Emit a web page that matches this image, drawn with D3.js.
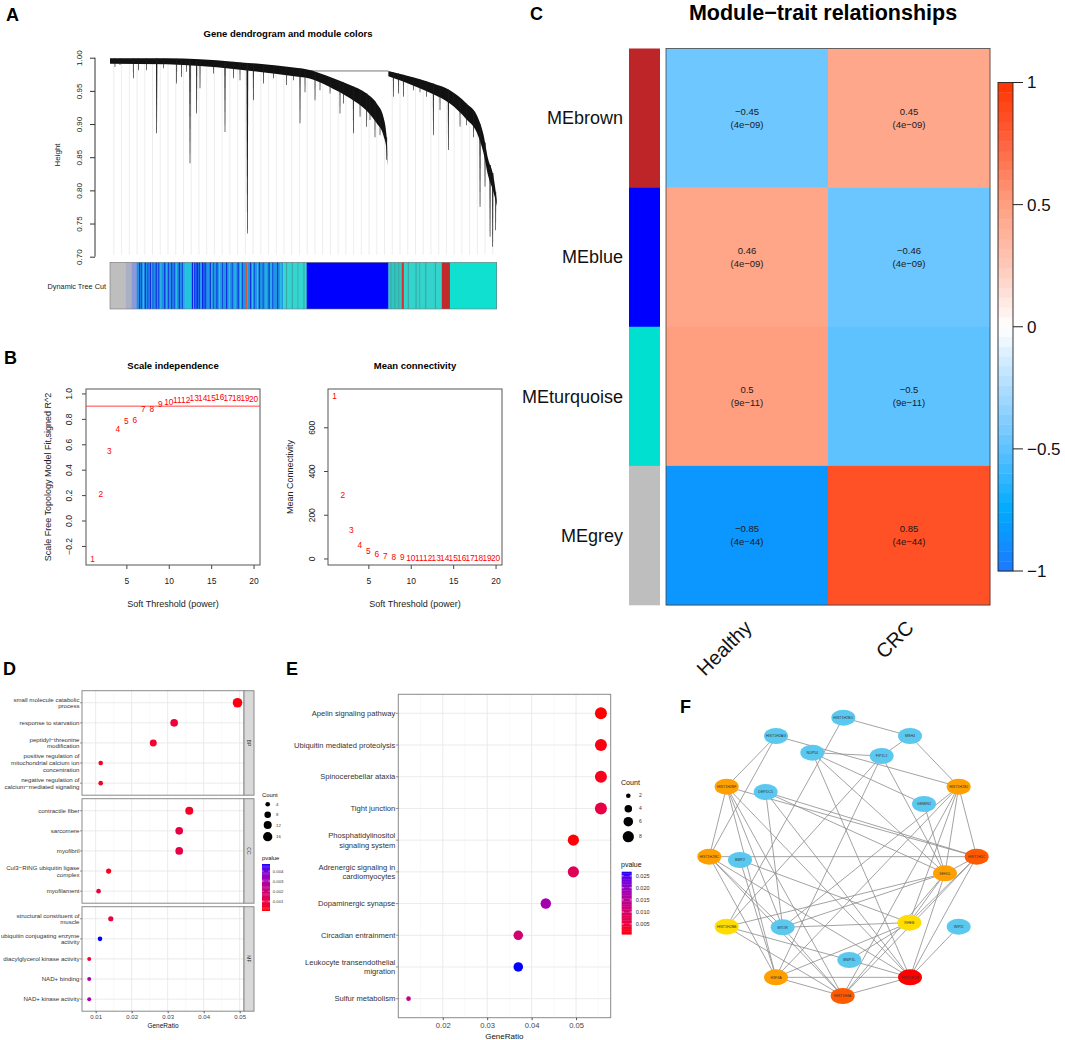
<!DOCTYPE html>
<html><head><meta charset="utf-8">
<script src="https://cdn.jsdelivr.net/npm/d3@7"></script>
<style>
body{margin:0;background:#fff}
svg{display:block}
text{font-family:"Liberation Sans",Arial,Helvetica,sans-serif}
</style>
</head><body>
<svg id="fig" width="1065" height="1040"></svg>
<script>
// ================= DATA =================
// --- Panel A: dendrogram (leaf index 0..1000, merge height)
const treeEnvLeftIdx   = [0,146.6,319,491,504,577.6,620.7,663.8,689.7,706.9,715.5,718];
const treeEnvLeftH     = [0.999,0.999,0.994,0.984,0.983,0.969,0.959,0.946,0.931,0.911,0.880,0.846];
const treeEnvLeftDepth = [0.008,0.009,0.011,0.013,0.013,0.016,0.020,0.026,0.030,0.028,0.020,0.008];
const treeEnvRightIdx   = [719.8,793,836,879,922,948,965.5,978.4,989.7,995.7,1000];
const treeEnvRightH     = [0.980,0.969,0.961,0.951,0.931,0.914,0.885,0.846,0.826,0.806,0.786];
const treeEnvRightDepth = [0.008,0.013,0.016,0.020,0.024,0.026,0.028,0.025,0.025,0.018,0.010];
const treeBridge = [504,719.8,0.980];
const treeDropIdx = [12.9,25.9,60.3,73.3,94.8,120.7,137.9,172.4,185.3,198.3,206.9,224.1,232.8,267.2,297.4,319,336.2,355.2,370.7,396.6,422.4,456.9,474.1,491.4,504.3,530.2,543.1,569,594.8,603.4,629.3,646.6,663.8,672.4,685.3,698.3,715.5,732.8,745.7,758.6,784.5,801.7,819,836.2,853.4,875,888,905.2,922.4,939.7,956.9,969.8,982.8,989.7,997.4];
const treeDropH = [0.986,0.989,0.969,0.981,0.981,0.886,0.984,0.961,0.971,0.979,0.841,0.916,0.954,0.976,0.888,0.969,0.966,0.735,0.936,0.961,0.969,0.959,0.966,0.901,0.948,0.936,0.951,0.946,0.916,0.931,0.886,0.911,0.896,0.906,0.880,0.883,0.846,0.941,0.946,0.941,0.951,0.948,0.941,0.883,0.921,0.861,0.931,0.896,0.898,0.880,0.775,0.806,0.730,0.715,0.740];
const treeYTicks = [0.70,0.75,0.80,0.85,0.90,0.95,1.00];
// Dynamic tree cut colour runs [start, end, colour]
const treeCutRuns = [
  [0,41,"#bebebe"],[41,55,"#aab0c4"],[55,69,"#8a9ad6"],[69,194,"#1f8fe6"],[194,211,"#22c4dc"],
  [211,250,"#1c6fe8"],[250,351,"#1f96e4"],[351,355,"#cd5c3c"],[355,448,"#1f96e4"],[448,508.6,"#34d6d2"],
  [508.6,720,"#0000ff"],[720,754,"#2ec8c0"],[754,760,"#e03030"],[760,858,"#33d4cc"],[858,879,"#c02a2a"],[879,1000,"#10e0d0"]];
// thin stripes [start, width, colour]
const treeCutStripes = [
  [75,3,"#1430e0"],[80,2,"#1430e0"],[85,3,"#2cc0e0"],[90,3,"#1430e0"],[97,2,"#1430e0"],[103,3,"#1430e0"],[107,3,"#2cc0e0"],
  [110,2,"#1430e0"],[118,3,"#1430e0"],[125,2,"#1430e0"],[130,3,"#2cc0e0"],[140,3,"#1430e0"],[145,2,"#2cc0e0"],[150,2,"#1430e0"],
  [158,3,"#1430e0"],[165,2,"#1430e0"],[170,3,"#2cc0e0"],[178,3,"#1430e0"],[186,2,"#1430e0"],[190,3,"#2cc0e0"],
  [212,3,"#0a20e8"],[215,3,"#2cc0e0"],[218,2,"#0a20e8"],[224,3,"#0a20e8"],[230,2,"#0a20e8"],[234,3,"#2cc0e0"],[238,3,"#0a20e8"],[245,2,"#0a20e8"],
  [258,3,"#1430e0"],[262,3,"#2cc0e0"],[266,2,"#1430e0"],[275,3,"#1430e0"],[282,3,"#2cc0e0"],[290,2,"#1430e0"],[300,3,"#1430e0"],
  [307,3,"#2cc0e0"],[315,2,"#1430e0"],[322,3,"#2cc0e0"],[330,3,"#1430e0"],[336,3,"#2cc0e0"],[342,2,"#1430e0"],
  [362,3,"#1430e0"],[367,3,"#2cc0e0"],[372,2,"#1430e0"],[380,3,"#2cc0e0"],[385,3,"#1430e0"],[395,2,"#1430e0"],[402,3,"#2cc0e0"],
  [410,3,"#1430e0"],[415,3,"#2cc0e0"],[420,2,"#1430e0"],[432,3,"#1430e0"],[440,4,"#2cc0e0"],
  [455,3,"#3aa8a8"],[470,3,"#3aa8a8"],[485,2,"#3aa8a8"],[500,3,"#3aa8a8"],
  [725,3,"#3aa8a8"],[735,3,"#3aa8a8"],[745,3,"#3aa8a8"],
  [770,3,"#3aa8a8"],[790,3,"#3aa8a8"],[800,2,"#3aa8a8"],[815,3,"#3aa8a8"],[840,3,"#3aa8a8"]];

// --- Panel B: soft threshold
const softPower = [1,2,3,4,5,6,7,8,9,10,11,12,13,14,15,16,17,18,19,20];
const sftSignedR2 = [-0.30,0.21,0.55,0.72,0.78,0.79,0.875,0.875,0.92,0.935,0.95,0.95,0.96,0.965,0.965,0.974,0.965,0.96,0.96,0.955];
const meanConnectivity = [743,289,130,62,35,18,12,8,5,3,2,2,1.5,1,1,1,1,1,0.5,0.5];
const sftCutoff = 0.9;
const powerTicks = [5,10,15,20];
const r2Ticks = [-0.2,0.0,0.2,0.4,0.6,0.8,1.0];
const connTicks = [0,200,400,600];

// --- Panel C: module-trait
const modules = ["MEbrown","MEblue","MEturquoise","MEgrey"];
const moduleColors = ["#be2528","#0000ff","#00e0d0","#bebebe"];
const traits = ["Healthy","CRC"];
const corHealthy = [-0.45,0.46,0.5,-0.85];
const corCRC = [0.45,-0.46,-0.5,0.85];
const pHealthy = ["4e\u221209","4e\u221209","9e\u221211","4e\u221244"];
const pCRC = ["4e\u221209","4e\u221209","9e\u221211","4e\u221244"];
const corTicks = [-1,-0.5,0,0.5,1];

// --- Panel D: GO enrichment
const goFacets = ["BP","CC","MF"];
const goTerms = [
  ["small molecule catabolic\nprocess","response to starvation","peptidyl\u2212threonine\nmodification","positive regulation of\nmitochondrial calcium ion\nconcentration","negative regulation of\ncalcium\u2212mediated signaling"],
  ["contractile fiber","sarcomere","myofibril","Cul3\u2212RING ubiquitin ligase\ncomplex","myofilament"],
  ["structural constituent of\nmuscle","ubiquitin conjugating enzyme\nactivity","diacylglycerol kinase activity","NAD+ binding","NAD+ kinase activity"]];
const goRatio = [[0.0494,0.0318,0.0260,0.0114,0.0114],[0.0360,0.0332,0.0332,0.0136,0.0108],[0.0142,0.0112,0.0082,0.0082,0.0082]];
const goCount = [[17,11,9,4,4],[12,11,11,5,4],[5,4,3,3,3]];
const goP = [[0.0002,0.0008,0.0006,0.0003,0.0004],[0.0005,0.0010,0.0010,0.0004,0.0007],[0.0009,0.0047,0.0006,0.0030,0.0030]];
const goXTicks = [0.01,0.02,0.03,0.04,0.05];
const goCountLegend = [4,8,12,16];
const goPTicks = [0.001,0.002,0.003,0.004];

// --- Panel E: KEGG enrichment
const keggTerms = ["Apelin signaling pathway","Ubiquitin mediated proteolysis","Spinocerebellar ataxia","Tight junction","Phosphatidylinositol\nsignaling system","Adrenergic signaling in\ncardiomyocytes","Dopaminergic synapse","Circadian entrainment","Leukocyte transendothelial\nmigration","Sulfur metabolism"];
const keggRatio = [0.0556,0.0556,0.0556,0.0556,0.0494,0.0494,0.0432,0.0370,0.0370,0.0123];
const keggCount = [9,9,9,9,8,8,7,6,6,2];
const keggP = [0.0008,0.0015,0.0022,0.0060,0.0010,0.0080,0.0180,0.0110,0.0267,0.0130];
const keggXTicks = [0.02,0.03,0.04,0.05];
const keggCountLegend = [2,4,6,8];
const keggPTicks = [0.005,0.010,0.015,0.020,0.025];

// --- Panel F: PPI network (layout units)
const ppiNodes = ["HIST1H2BO","MSH4","HIST1H2AG","NUP54","FIP1L1","HIST1H2BF","DEPDC5","GEMIN2","HIST1H2BJ","HIST1H2BC","BMP2","HIST1H1C","SEH1L","HIST1H2BB","MTOR","RHEB","WIPI2","BNIP3L","H3F3A","HIST1H3B","HIST1H4A"];
const ppiX = [49.0,69.0,28.8,39.7,60.5,14.0,25.7,73.2,83.6,8.8,18.0,89.0,79.5,14.0,30.8,68.8,83.6,50.8,28.8,69.0,48.8];
const ppiY = [11.3,16.8,16.8,21.8,22.8,32.0,33.6,37.2,32.0,53.0,54.0,53.0,58.0,74.0,74.2,72.8,74.0,84.0,89.2,89.2,94.8];
const ppiLevel = [0,0,0,0,0,2,0,0,2,2,0,3,2,1,0,1,0,0,2,4,3];
const ppiEdges = [
 ["HIST1H2BO","MSH4"],["HIST1H2BO","HIST1H2BB"],["MSH4","FIP1L1"],["MSH4","HIST1H2BJ"],
 ["HIST1H2AG","HIST1H2BF"],["HIST1H2AG","HIST1H2BC"],["HIST1H2AG","HIST1H2BJ"],
 ["NUP54","FIP1L1"],["NUP54","GEMIN2"],["NUP54","SEH1L"],["NUP54","HIST1H3B"],
 ["FIP1L1","HIST1H2BB"],["FIP1L1","SEH1L"],["FIP1L1","H3F3A"],
 ["HIST1H2BF","HIST1H2BC"],["HIST1H2BF","HIST1H1C"],["HIST1H2BF","H3F3A"],["HIST1H2BF","HIST1H4A"],["HIST1H2BF","HIST1H3B"],["HIST1H2BF","MTOR"],
 ["DEPDC5","SEH1L"],["DEPDC5","HIST1H1C"],["DEPDC5","MTOR"],["DEPDC5","HIST1H3B"],
 ["GEMIN2","SEH1L"],
 ["HIST1H2BJ","SEH1L"],["HIST1H2BJ","HIST1H1C"],["HIST1H2BJ","RHEB"],["HIST1H2BJ","H3F3A"],["HIST1H2BJ","HIST1H4A"],["HIST1H2BJ","MTOR"],
 ["HIST1H2BC","HIST1H1C"],["HIST1H2BC","H3F3A"],["HIST1H2BC","HIST1H4A"],["HIST1H2BC","MTOR"],["HIST1H2BC","HIST1H3B"],
 ["BMP2","RHEB"],["BMP2","H3F3A"],
 ["SEH1L","HIST1H2BB"],["SEH1L","RHEB"],["SEH1L","HIST1H3B"],["SEH1L","HIST1H4A"],["SEH1L","MTOR"],["SEH1L","HIST1H1C"],
 ["HIST1H1C","RHEB"],["HIST1H1C","HIST1H3B"],["HIST1H1C","HIST1H4A"],
 ["RHEB","MTOR"],["RHEB","BNIP3L"],["RHEB","H3F3A"],
 ["WIPI2","HIST1H3B"],
 ["HIST1H2BB","BNIP3L"],["HIST1H2BB","HIST1H4A"],
 ["MTOR","HIST1H4A"],["H3F3A","HIST1H3B"],["H3F3A","HIST1H4A"],["HIST1H4A","HIST1H3B"],["BNIP3L","HIST1H3B"]];

// ================= DRAWING =================
const svg = d3.select("#fig");
const minus = s => String(s).replace("-", "\u2212");

function label(x, y, t) {
  svg.append("text").attr("x", x).attr("y", y).text(t)
    .attr("font-size", 18).attr("font-weight", "bold").attr("fill", "#000");
}
label(6, 21, "A"); label(4, 364, "B"); label(530, 20, "C");
label(3, 675, "D"); label(286, 675, "E"); label(680, 713, "F");

// ---------- Panel A ----------
(function(){
  const g = svg.append("g");
  const x = d3.scaleLinear([0,1000],[110,496.7]);
  const y = d3.scaleLinear([0.70,1.00],[256.7,57.7]);
  const envL = d3.scaleLinear(treeEnvLeftIdx, treeEnvLeftH);
  const envR = d3.scaleLinear(treeEnvRightIdx, treeEnvRightH);
  const env = i => i < 719 ? envL(i) : envR(i);

  g.append("text").attr("x", 288).attr("y", 37).attr("text-anchor","middle")
   .attr("font-size", 9.5).attr("font-weight","bold").text("Gene dendrogram and module colors");

  // faint leaf lines
  g.append("g").selectAll("line").data(d3.range(10, 1000, 20)).join("line")
    .attr("x1", d => x(d)).attr("x2", d => x(d))
    .attr("y1", d => y(env(d))).attr("y2", y(0.70) - 2)
    .attr("stroke", "#e0e0e0").attr("stroke-width", 0.6);

  // bridge
  g.append("line").attr("x1", x(treeBridge[0])).attr("x2", x(treeBridge[1]))
    .attr("y1", y(treeBridge[2])).attr("y2", y(treeBridge[2])).attr("stroke","#555").attr("stroke-width",0.8);

  // dense top mass
  const idxL = treeEnvLeftIdx.map((d,i)=>i), idxR = treeEnvRightIdx.map((d,i)=>i);
  g.append("path").datum(idxL).attr("fill","#111")
    .attr("d", d3.area().x(i => x(treeEnvLeftIdx[i])).y1(i => y(treeEnvLeftH[i]))
      .y0(i => y(treeEnvLeftH[i] - treeEnvLeftDepth[i])).curve(d3.curveMonotoneX));
  g.append("path").datum(idxR).attr("fill","#111")
    .attr("d", d3.area().x(i => x(treeEnvRightIdx[i])).y1(i => y(treeEnvRightH[i]))
      .y0(i => y(treeEnvRightH[i] - treeEnvRightDepth[i])).curve(d3.curveMonotoneX));

  // drops (tapered branches)
  g.append("g").selectAll("path").data(treeDropIdx.map((d,i)=>i)).join("path")
    .attr("fill","#1a1a1a")
    .attr("d", i => {
      const xi = x(treeDropIdx[i]), top = y(env(treeDropIdx[i])), bot = y(treeDropH[i]);
      const w = 0.7 + Math.min(1.1, (env(treeDropIdx[i]) - treeDropH[i]) * 6);
      return `M${xi-w/2},${top}L${xi+w/2},${top}L${xi+0.3},${bot}L${xi-0.3},${bot}Z`;
    });

  // y axis
  const ax = g.append("g").attr("transform","translate(95,0)")
    .call(d3.axisLeft(y).tickValues(treeYTicks).tickFormat(d3.format(".2f")).tickSize(5).tickSizeOuter(0));
  ax.select(".domain").attr("stroke","#333").attr("d", `M0,${y(0.70)}V${y(1.00)}`);
  ax.selectAll(".tick line").attr("stroke","#333");
  ax.selectAll("text").attr("x", null).attr("dy","0.35em").attr("text-anchor","middle")
    .attr("transform","translate(-16,0) rotate(-90)").attr("font-size",8).attr("fill","#222");
  g.append("text").attr("transform",`translate(60,155) rotate(-90)`).attr("text-anchor","middle")
    .attr("font-size",8).attr("fill","#222").text("Height");

  // colour bar
  const cb = g.append("g");
  cb.selectAll("rect.run").data(treeCutRuns).join("rect").attr("class","run")
    .attr("x", d => x(d[0])).attr("width", d => x(d[1]) - x(d[0]) + 0.3)
    .attr("y", 262.3).attr("height", 46.7).attr("fill", d => d[2]);
  cb.selectAll("rect.str").data(treeCutStripes).join("rect").attr("class","str")
    .attr("x", d => x(d[0])).attr("width", d => x(d[0]+d[1]) - x(d[0]))
    .attr("y", 262.3).attr("height", 46.7).attr("fill", d => d[2]);
  cb.append("rect").attr("x", x(0)).attr("y",262.3).attr("width", x(1000)-x(0)).attr("height",46.7)
    .attr("fill","none").attr("stroke","#777").attr("stroke-width",0.6);
  g.append("text").attr("x",106).attr("y",288.5).attr("text-anchor","end").attr("font-size",7.3)
    .attr("fill","#222").text("Dynamic Tree Cut");
})();

// ---------- Panel B ----------
function sftPlot(x0, x1, yDom, yTicks, values, title, ylab, ylabX, tickLabX, fmt, cutoff) {
  const g = svg.append("g");
  const x = d3.scaleLinear([0.24,20.76],[x0,x1]);
  const y = d3.scaleLinear(yDom,[565,389]);
  g.append("text").attr("x",(x0+x1)/2).attr("y",369).attr("text-anchor","middle")
    .attr("font-size",9.5).attr("font-weight","bold").text(title);
  const ax = g.append("g").attr("transform",`translate(0,565)`)
    .call(d3.axisBottom(x).tickValues(powerTicks).tickSize(4).tickSizeOuter(0));
  ax.select(".domain").remove();
  ax.selectAll(".tick line").attr("stroke","#444");
  ax.selectAll("text").attr("y",13).attr("dy","0.71em").attr("font-size",8.5).attr("fill","#222");
  const ay = g.append("g").attr("transform",`translate(${x0},0)`)
    .call(d3.axisLeft(y).tickValues(yTicks).tickFormat(fmt).tickSize(4).tickSizeOuter(0));
  ay.select(".domain").remove();
  ay.selectAll(".tick line").attr("stroke","#444");
  ay.selectAll("text").attr("x", null).attr("dy","0.35em").attr("text-anchor","middle")
    .attr("transform",`translate(${tickLabX - x0},0) rotate(-90)`).attr("font-size",8.5).attr("fill","#222");
  g.append("rect").attr("x",x0).attr("y",389).attr("width",x1-x0).attr("height",176)
    .attr("fill","none").attr("stroke","#555").attr("stroke-width",1);
  if (cutoff !== null) {
    g.append("line").attr("x1",x0).attr("x2",x1).attr("y1",y(cutoff)).attr("y2",y(cutoff))
      .attr("stroke","#ff3030").attr("stroke-width",0.9);
  }
  g.selectAll("text.pt").data(softPower).join("text").attr("class","pt")
    .attr("x",(d)=>x(d)).attr("y",(d,i)=>y(values[i])).attr("dy","0.35em")
    .attr("text-anchor","middle").attr("font-size",8.3).attr("fill","#ff0000").text(d=>d);
  g.append("text").attr("x",(x0+x1)/2).attr("y",607).attr("text-anchor","middle")
    .attr("font-size",9).attr("fill","#222").text("Soft Threshold (power)");
  g.append("text").attr("transform",`translate(${ylabX},477) rotate(-90)`).attr("text-anchor","middle")
    .attr("font-size",9).attr("fill","#222").text(ylab);
}
sftPlot(86,260,[-0.35,1.035],r2Ticks,sftSignedR2,"Scale independence","Scale Free Topology Model Fit,signed R^2",51,69.3,d=>minus(d3.format(".1f")(d)),sftCutoff);
sftPlot(328,502,[-29.8,775],connTicks,meanConnectivity,"Mean connectivity","Mean Connectivity",293,311.7,d3.format("d"),null);

// ---------- Panel C ----------
(function(){
  const g = svg.append("g");
  const corStops = [-1,-0.75,-0.5,-0.25,0,0.25,0.5,0.75,1];
  const corCols = ["#1e78ff","#00aaff","#5ec2ff","#aedcff","#ffffff","#ffc8b9","#ff9f80","#ff6440","#ff3300"];
  const col = d3.scaleLinear(corStops, corCols);
  const yR = d3.scaleBand(modules,[48.5,605]);
  const xC = d3.scaleBand(traits,[666,990]);
  g.append("text").attr("x",823).attr("y",20).attr("text-anchor","middle")
    .attr("font-size",21.5).attr("font-weight","bold").text("Module\u2212trait relationships");
  g.selectAll("rect.side").data(modules).join("rect").attr("class","side")
    .attr("x",629).attr("width",31).attr("y",d=>yR(d)).attr("height",yR.bandwidth()+0.3)
    .attr("fill",(d,i)=>moduleColors[i]);
  g.selectAll("text.mod").data(modules).join("text").attr("class","mod")
    .attr("x",623).attr("y",d=>yR(d)+yR.bandwidth()/2).attr("dy","0.35em")
    .attr("text-anchor","end").attr("font-size",18).attr("fill","#111").text(d=>d);
  const cells = [];
  modules.forEach((m,i)=>{
    cells.push({m, t:"Healthy", r:corHealthy[i], p:pHealthy[i]});
    cells.push({m, t:"CRC", r:corCRC[i], p:pCRC[i]});
  });
  g.selectAll("rect.cell").data(cells).join("rect").attr("class","cell")
    .attr("x",d=>xC(d.t)).attr("y",d=>yR(d.m)).attr("width",xC.bandwidth()+0.3).attr("height",yR.bandwidth()+0.3)
    .attr("fill",d=>col(d.r));
  const ct = g.selectAll("g.ct").data(cells).join("g").attr("class","ct")
    .attr("transform",d=>`translate(${xC(d.t)+xC.bandwidth()/2},${yR(d.m)+yR.bandwidth()/2})`);
  ct.append("text").attr("y",-6.3).attr("dy","0.35em").attr("text-anchor","middle").attr("font-size",9.5)
    .attr("fill","#1a1a1a").text(d=>minus(d.r));
  ct.append("text").attr("y",6.3).attr("dy","0.35em").attr("text-anchor","middle").attr("font-size",9.5)
    .attr("fill","#1a1a1a").text(d=>"("+d.p+")");
  g.append("rect").attr("x",666).attr("y",48.5).attr("width",324).attr("height",556.5)
    .attr("fill","none").attr("stroke","#444").attr("stroke-width",0.8);
  g.selectAll("text.tr").data(traits).join("text").attr("class","tr")
    .attr("transform",d=>`translate(${xC(d)+xC.bandwidth()/2+6},629) rotate(-45)`)
    .attr("text-anchor","end").attr("font-size",20).attr("fill","#111").text(d=>d);
  const yL = d3.scaleLinear([-1,1],[571,82.5]);
  const bands = d3.range(-1, 1, 0.04);
  g.selectAll("rect.lb").data(bands).join("rect").attr("class","lb")
    .attr("x",998).attr("width",15).attr("y",d=>yL(d+0.04)).attr("height",yL(-1)-yL(-0.96)+0.4)
    .attr("fill",d=>col(d+0.02));
  g.append("rect").attr("x",998).attr("y",82.5).attr("width",15).attr("height",488.5)
    .attr("fill","none").attr("stroke","#222").attr("stroke-width",0.9);
  g.selectAll("line.lt").data(corTicks).join("line").attr("class","lt")
    .attr("x1",1013).attr("x2",1023).attr("y1",d=>yL(d)).attr("y2",d=>yL(d)).attr("stroke","#222");
  g.selectAll("text.lt").data(corTicks).join("text").attr("class","lt")
    .attr("x",1027).attr("y",d=>yL(d)).attr("dy","0.35em").attr("font-size",17).attr("fill","#111")
    .text(d=>minus(d));
})();

// ---------- dotplot helpers ----------
function gridAndBorder(g, x, x0, x1, y0, y1, majors, minors, rowsY) {
  g.append("rect").attr("x",x0).attr("y",y0).attr("width",x1-x0).attr("height",y1-y0).attr("fill","#fff");
  g.selectAll("line.mi").data(minors).join("line").attr("class","mi")
    .attr("x1",d=>x(d)).attr("x2",d=>x(d)).attr("y1",y0).attr("y2",y1).attr("stroke","#f3f3f3").attr("stroke-width",0.5);
  g.selectAll("line.ma").data(majors).join("line").attr("class","ma")
    .attr("x1",d=>x(d)).attr("x2",d=>x(d)).attr("y1",y0).attr("y2",y1).attr("stroke","#e6e6e6").attr("stroke-width",0.8);
  g.selectAll("line.hr").data(rowsY).join("line").attr("class","hr")
    .attr("x1",x0).attr("x2",x1).attr("y1",d=>d).attr("y2",d=>d).attr("stroke","#e6e6e6").attr("stroke-width",0.8);
}
function multiLine(g, xr, yc, txt, fs, lh) {
  const lines = txt.split("\n");
  const t = g.append("text").attr("x",xr).attr("y",yc).attr("text-anchor","end").attr("font-size",fs).attr("fill","#333");
  lines.forEach((l,i)=>{
    t.append("tspan").attr("x",xr).attr("y", yc + (i - (lines.length-1)/2)*lh).attr("dy","0.35em").text(l);
  });
}

// ---------- Panel D ----------
(function(){
  const g = svg.append("g");
  const x0 = 82, x1 = 244;
  const x = d3.scaleLinear([0.0062,0.0512],[x0,x1]);
  const facetTop = [690.7,798.7,906.7], facetH = 104.5;
  const area = d3.scaleLinear([3,17],[4.0,23.0]);
  const rad = c => Math.sqrt(area(c));
  const pcol = d3.scaleLinear([0.00007,0.0047],["red","blue"]).interpolate(d3.interpolateLab);
  const minors = [0.015,0.025,0.035,0.045];
  goFacets.forEach((f,fi)=>{
    const yt = facetTop[fi];
    const y = d3.scalePoint(goTerms[fi],[yt, yt+facetH]).padding(0.6);
    const fg = g.append("g");
    gridAndBorder(fg, x, x0, x1, yt, yt+facetH, goXTicks, minors, goTerms[fi].map(t=>y(t)));
    fg.selectAll("circle").data(goTerms[fi]).join("circle")
      .attr("cx",(d,i)=>x(goRatio[fi][i])).attr("cy",d=>y(d)).attr("r",(d,i)=>rad(goCount[fi][i]))
      .attr("fill",(d,i)=>pcol(goP[fi][i]));
    fg.append("rect").attr("x",x0).attr("y",yt).attr("width",x1-x0).attr("height",facetH)
      .attr("fill","none").attr("stroke","#8a8a8a").attr("stroke-width",1);
    fg.append("rect").attr("x",x1).attr("y",yt).attr("width",10).attr("height",facetH)
      .attr("fill","#d9d9d9").attr("stroke","#8a8a8a").attr("stroke-width",1);
    fg.append("text").attr("transform",`translate(${x1+5},${yt+facetH/2}) rotate(90)`)
      .attr("text-anchor","middle").attr("dy","0.35em").attr("font-size",5).attr("fill","#333").text(f);
    goTerms[fi].forEach(t=>{
      fg.append("line").attr("x1",x0-2).attr("x2",x0).attr("y1",y(t)).attr("y2",y(t)).attr("stroke","#555").attr("stroke-width",0.6);
      multiLine(fg, x0-2.5, y(t), t, 6.1, 6.7);
    });
  });
  const ax = g.append("g").attr("transform",`translate(0,1011.2)`)
    .call(d3.axisBottom(x).tickValues(goXTicks).tickFormat(d3.format(".2f")).tickSize(2).tickSizeOuter(0));
  ax.select(".domain").remove();
  ax.selectAll(".tick line").attr("stroke","#555");
  ax.selectAll("text").attr("y",4).attr("font-size",6).attr("fill","#444");
  g.append("text").attr("x",163).attr("y",1028).attr("text-anchor","middle").attr("font-size",6.5).attr("fill","#111").text("GeneRatio");
  g.append("text").attr("x",262).attr("y",797).attr("font-size",5.9).attr("fill","#111").text("Count");
  const legY = [804.3,814.7,825,836.7];
  g.selectAll("circle.lg").data(goCountLegend).join("circle").attr("class","lg")
    .attr("cx",267.7).attr("cy",(d,i)=>legY[i]).attr("r",d=>rad(d)).attr("fill","#000");
  g.selectAll("text.lg").data(goCountLegend).join("text").attr("class","lg")
    .attr("x",276).attr("y",(d,i)=>legY[i]).attr("dy","0.35em").attr("font-size",4.3).attr("fill","#333").text(d=>d);
  g.append("text").attr("x",262).attr("y",860).attr("font-size",5.9).attr("fill","#111").text("pvalue");
  const yb = d3.scaleLinear([0.00007,0.0047],[910.7,864]);
  g.selectAll("rect.cbd").data(d3.range(0,40)).join("rect").attr("class","cbd")
    .attr("x",262).attr("width",8).attr("y",i=>910.7 - (i+1)*46.7/40).attr("height",46.7/40+0.3)
    .attr("fill",i=>pcol(yb.invert(910.7 - (i+0.5)*46.7/40)));
  g.selectAll("line.cbt").data(goPTicks).join("line").attr("class","cbt")
    .attr("x1",262).attr("x2",263.6).attr("y1",d=>yb(d)).attr("y2",d=>yb(d)).attr("stroke","#fff").attr("stroke-width",0.5);
  g.selectAll("line.cbt2").data(goPTicks).join("line").attr("class","cbt2")
    .attr("x1",268.4).attr("x2",270).attr("y1",d=>yb(d)).attr("y2",d=>yb(d)).attr("stroke","#fff").attr("stroke-width",0.5);
  g.selectAll("text.cbt").data(goPTicks).join("text").attr("class","cbt")
    .attr("x",272.7).attr("y",d=>yb(d)).attr("dy","0.35em").attr("font-size",4.3).attr("fill","#333").text(d3.format(".3f"));
})();

// ---------- Panel E ----------
(function(){
  const g = svg.append("g");
  const x0 = 398.3, x1 = 610.7, y0 = 694.3, y1 = 1017.7;
  const x = d3.scaleLinear([0.0100,0.0578],[x0,x1]);
  const y = d3.scalePoint(keggTerms,[y0,y1]).padding(0.6);
  const area = d3.scaleLinear([2,9],[5.3,36]);
  const rad = c => Math.sqrt(area(c));
  const pcol = d3.scaleLinear([0.00074,0.0267],["red","blue"]).interpolate(d3.interpolateLab);
  gridAndBorder(g, x, x0, x1, y0, y1, keggXTicks, [0.015,0.025,0.035,0.045,0.055], keggTerms.map(t=>y(t)));
  g.selectAll("circle.pt").data(keggTerms).join("circle").attr("class","pt")
    .attr("cx",(d,i)=>x(keggRatio[i])).attr("cy",d=>y(d)).attr("r",(d,i)=>rad(keggCount[i]))
    .attr("fill",(d,i)=>pcol(keggP[i]));
  g.append("rect").attr("x",x0).attr("y",y0).attr("width",x1-x0).attr("height",y1-y0)
    .attr("fill","none").attr("stroke","#8a8a8a").attr("stroke-width",1);
  keggTerms.forEach(t=>{
    g.append("line").attr("x1",x0-2.5).attr("x2",x0).attr("y1",y(t)).attr("y2",y(t)).attr("stroke","#555").attr("stroke-width",0.6);
    multiLine(g, x0-3, y(t), t, 7.6, 9.4);
  });
  const ax = g.append("g").attr("transform",`translate(0,${y1})`)
    .call(d3.axisBottom(x).tickValues(keggXTicks).tickFormat(d3.format(".2f")).tickSize(2.5).tickSizeOuter(0));
  ax.select(".domain").remove();
  ax.selectAll(".tick line").attr("stroke","#555");
  ax.selectAll("text").attr("y",4.5).attr("font-size",7.6).attr("fill","#444");
  g.append("text").attr("x",504.3).attr("y",1038.5).attr("text-anchor","middle").attr("font-size",8).attr("fill","#111").text("GeneRatio");
  g.append("text").attr("x",621).attr("y",785).attr("font-size",7.1).attr("fill","#111").text("Count");
  const legY = [795.7,808.7,821.7,836.7];
  g.selectAll("circle.lg").data(keggCountLegend).join("circle").attr("class","lg")
    .attr("cx",628.3).attr("cy",(d,i)=>legY[i]).attr("r",d=>rad(d)).attr("fill","#000");
  g.selectAll("text.lg").data(keggCountLegend).join("text").attr("class","lg")
    .attr("x",639).attr("y",(d,i)=>legY[i]).attr("dy","0.35em").attr("font-size",5).attr("fill","#333").text(d=>d);
  g.append("text").attr("x",621).attr("y",866.5).attr("font-size",7).attr("fill","#111").text("pvalue");
  const yb = d3.scaleLinear([0.00074,0.0267],[934.3,871.7]);
  const H = 934.3-871.7;
  g.selectAll("rect.cbd").data(d3.range(0,40)).join("rect").attr("class","cbd")
    .attr("x",621.7).attr("width",10).attr("y",i=>934.3-(i+1)*H/40).attr("height",H/40+0.3)
    .attr("fill",i=>pcol(yb.invert(934.3-(i+0.5)*H/40)));
  g.selectAll("line.cbt").data(keggPTicks).join("line").attr("class","cbt")
    .attr("x1",621.7).attr("x2",623.7).attr("y1",d=>yb(d)).attr("y2",d=>yb(d)).attr("stroke","#fff").attr("stroke-width",0.6);
  g.selectAll("line.cbt2").data(keggPTicks).join("line").attr("class","cbt2")
    .attr("x1",629.7).attr("x2",631.7).attr("y1",d=>yb(d)).attr("y2",d=>yb(d)).attr("stroke","#fff").attr("stroke-width",0.6);
  g.selectAll("text.cbt").data(keggPTicks).join("text").attr("class","cbt")
    .attr("x",635.7).attr("y",d=>yb(d)).attr("dy","0.35em").attr("font-size",5.6).attr("fill","#333").text(d3.format(".3f"));
})();

// ---------- Panel F ----------
(function(){
  const g = svg.append("g");
  const x = d3.scaleLinear([0,115.5],[680,1065]);
  const y = d3.scaleLinear([0,108],[680,1040]);
  const levelColors = ["#5bc8f0","#ffdd00","#ff9f00","#ff5a00","#ff0000"];
  const idx = {};
  ppiNodes.forEach((n,i)=>idx[n]=i);
  g.selectAll("line").data(ppiEdges).join("line")
    .attr("x1",d=>x(ppiX[idx[d[0]]])).attr("y1",d=>y(ppiY[idx[d[0]]]))
    .attr("x2",d=>x(ppiX[idx[d[1]]])).attr("y2",d=>y(ppiY[idx[d[1]]]))
    .attr("stroke","#8c8c8c").attr("stroke-width",0.8);
  g.selectAll("ellipse").data(ppiNodes).join("ellipse")
    .attr("cx",(d,i)=>x(ppiX[i])).attr("cy",(d,i)=>y(ppiY[i])).attr("rx",12).attr("ry",8)
    .attr("fill",(d,i)=>levelColors[ppiLevel[i]]);
  g.selectAll("text").data(ppiNodes).join("text")
    .attr("x",(d,i)=>x(ppiX[i])).attr("y",(d,i)=>y(ppiY[i])).attr("dy","0.35em")
    .attr("text-anchor","middle").attr("font-size",3.6).attr("fill","#333").text(d=>d);
})();
</script>
</body></html>
